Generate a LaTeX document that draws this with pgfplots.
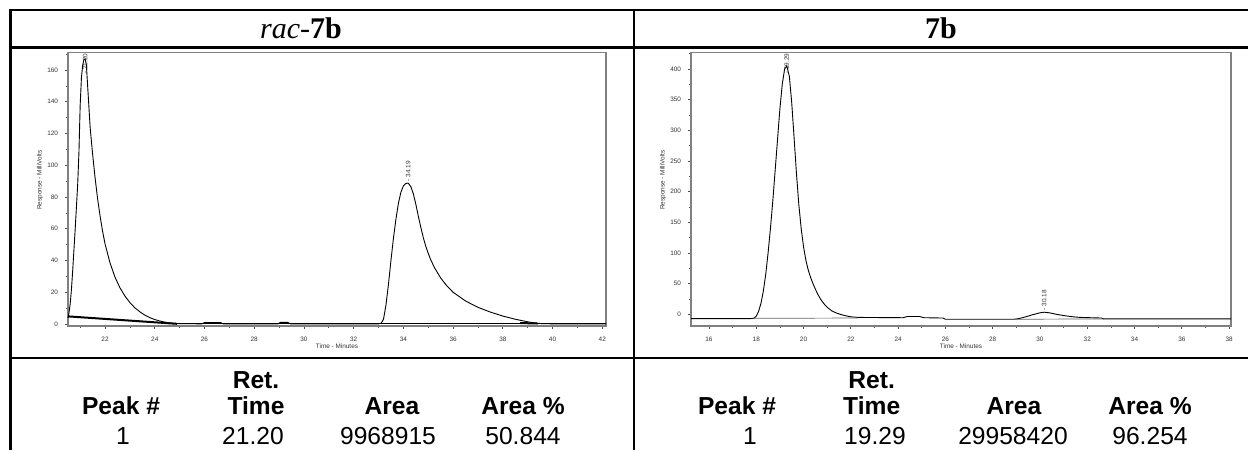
\documentclass[border=0pt]{standalone}
\usepackage{fontspec}
\setmainfont{Liberation Serif}
\setsansfont{Liberation Sans}
\usepackage{pgfplots}
\pgfplotsset{compat=1.18}
\pgfplotsset{chrom/.style={
  scale only axis, anchor=south west, clip=false,
  axis line style={black!50, line width=0.7pt},
  tick align=outside, tick pos=left,
  major tick length=1.6pt, minor tick length=0.9pt,
  every tick/.style={black!70, line width=0.35pt},
  /pgf/number format/assume math mode=true,
  tick label style={font=\sffamily\fontsize{3.2}{3.5}\selectfont, text=black!80, inner sep=0pt},
  xticklabel style={anchor=center, yshift=-5.1pt},
  yticklabel style={anchor=east, xshift=-3.2pt},
  xlabel={Time - Minutes}, ylabel={Response - MilliVolts},
  every axis x label/.style={at={(axis description cs:0.5,-0.0757)}, anchor=center,
     font=\sffamily\fontsize{3.2}{3.5}\selectfont, text=black!80, inner sep=0pt},
  every axis y label/.style={at={(axis description cs:-0.052,0.534)}, anchor=center, rotate=90,
     font=\sffamily\fontsize{3.2}{3.5}\selectfont, text=black!80, inner sep=0pt},
}}
\begin{document}
\begin{tikzpicture}
\useasboundingbox (0,0) rectangle (624pt,225pt);
% table lines
\draw[line width=1.4pt] (5.35pt,0) -- (5.35pt,220pt) -- (624pt,220pt);
\draw[line width=1.4pt] (5.35pt,201.15pt) -- (624pt,201.15pt);
\draw[line width=1.4pt] (5.35pt,46pt) -- (624pt,46pt);
\draw[line width=1.4pt] (317pt,0) -- (317pt,220pt);
% titles
\node[anchor=base, inner sep=0pt] at (150.5pt,205.7pt) {\fontsize{15}{17}\selectfont\textit{rac}-\textbf{7b}};
\node[anchor=base, inner sep=0pt] at (470.5pt,205.7pt) {\fontsize{15}{17}\selectfont\textbf{7b}};

% left chromatogram
\begin{axis}[chrom, at={(34pt,62pt)}, width=269pt, height=136.65pt,
  xmin=20.51, xmax=42.15, ymin=-1.26, ymax=170.9,
  xtick={22,24,...,42}, minor xtick={21,23,...,41},
  ytick={0,20,...,160}, minor ytick={10,30,...,170}]
\addplot[black, line width=0.45pt] coordinates {
(20.51,3.8) (20.55,7) (20.60,13) (20.65,22) (20.70,34) (20.75,47) (20.80,60) (20.85,74)
(20.90,88) (20.95,108) (21.00,138) (21.05,155) (21.10,163) (21.15,166.5) (21.20,167)
(21.25,163) (21.30,150) (21.35,137) (21.40,124) (21.50,107) (21.60,92) (21.70,79)
(21.80,68) (21.90,58.5) (22.00,50.5) (22.20,38.5) (22.40,29.5) (22.60,22.8) (22.80,17.6)
(23.00,13.5) (23.20,10.2) (23.40,7.7) (23.60,5.6) (23.80,4) (24.00,2.8) (24.20,1.9)
(24.40,1.2) (24.60,0.7) (24.80,0.4) (25.00,0.2) (25.90,0.1) (26.00,0.9) (26.65,0.9)
(26.75,0.1) (28.95,0.1) (29.05,1) (29.35,1) (29.45,0.1) (33.00,0.1) (33.10,0.4)
(33.20,3) (33.30,12) (33.40,25) (33.50,40) (33.60,54) (33.70,66) (33.80,76) (33.90,83)
(34.00,87) (34.10,88.5) (34.19,88.8) (34.30,86.5) (34.40,82) (34.50,75.5) (34.60,68)
(34.70,61) (34.80,54.5) (34.90,49) (35.00,44.5) (35.10,40.5) (35.25,35.5) (35.50,29)
(35.75,24) (36.00,20) (36.50,14.5) (37.00,10.5) (37.50,7.5) (38.00,5) (38.50,3)
(39.00,1.4) (39.30,0.6) (39.60,0.2) (40.00,0.1) (42.15,0.1)};
\addplot[black, line width=1pt] coordinates {(20.51,4.8) (24.9,0.1)};
\addplot[black, line width=0.6pt] coordinates {(24.9,0.1) (42.15,0.1)};
\addplot[black, line width=1pt] coordinates {(38.7,0.6) (39.4,0.3)};
\node[rotate=90, anchor=east, inner sep=0.3pt, font=\sffamily\fontsize{3.2}{3.5}\selectfont, text=black!80] at (axis cs:21.2,170.9) {- 21.20};
\node[rotate=90, anchor=west, inner sep=0.8pt, font=\sffamily\fontsize{3.2}{3.5}\selectfont, text=black!80] at (axis cs:34.19,88.8) {- 34.19};
\end{axis}

% right chromatogram
\begin{axis}[chrom, at={(345.5pt,62pt)}, width=270pt, height=136.65pt,
  xmin=15.24, xmax=38.08, ymin=-19, ymax=426.5,
  xtick={16,18,...,38}, minor xtick={17,19,...,37},
  ytick={0,50,...,400}, minor ytick={25,75,...,425}]
\addplot[black, line width=0.45pt] coordinates {
(15.24,-7) (17.70,-7) (17.90,-6.5) (18.00,-3) (18.10,5) (18.20,18) (18.30,38) (18.40,65)
(18.50,100) (18.60,140) (18.70,185) (18.80,235) (18.90,285) (19.00,335) (19.10,375)
(19.20,400) (19.29,405) (19.40,388) (19.50,345) (19.60,288) (19.70,230) (19.80,179)
(19.90,140) (20.00,110) (20.10,88) (20.20,72) (20.30,60) (20.40,50) (20.50,41)
(20.60,33) (20.70,26) (20.80,20.5) (20.90,15.5) (21.00,11.5) (21.20,5.5) (21.40,2)
(21.60,-0.5) (21.80,-2.5) (22.00,-4) (22.30,-5) (24.20,-5.5) (24.40,-3.5) (24.90,-3.5)
(25.10,-5.5) (25.90,-6) (26.00,-8) (28.90,-8) (29.10,-7) (29.40,-4) (29.70,-0.5)
(30.00,2.5) (30.18,3.5) (30.40,2.5) (30.70,0) (31.00,-2) (31.40,-4) (31.70,-5)
(32.60,-6) (32.70,-7.5) (38.08,-7.5)};
\addplot[black!60, line width=0.35pt] coordinates {(17.85,-6.5) (22.3,-6)};
\addplot[black!60, line width=0.35pt] coordinates {(28.9,-8) (32.7,-7.5)};
\node[rotate=90, anchor=east, inner sep=0.3pt, font=\sffamily\fontsize{3.2}{3.5}\selectfont, text=black!80] at (axis cs:19.29,426.5) {- 19.29};
\node[rotate=90, anchor=west, inner sep=0.8pt, font=\sffamily\fontsize{3.2}{3.5}\selectfont, text=black!80] at (axis cs:30.18,3.5) {- 30.18};
\end{axis}

% tables
\begin{scope}[every node/.style={anchor=base, inner sep=0pt, font=\sffamily\fontsize{12.3}{14}\selectfont}]
\node at (128pt,30.85pt) {\textbf{Ret.}};
\node at (60.5pt,17.85pt) {\textbf{Peak \#}};
\node at (128pt,17.85pt) {\textbf{Time}};
\node at (196pt,17.85pt) {\textbf{Area}};
\node at (261.5pt,17.85pt) {\textbf{Area \%}};
\node at (61.5pt,2.6pt) {1};
\node at (126.5pt,2.6pt) {21.20};
\node at (194pt,2.6pt) {9968915};
\node at (261.5pt,2.6pt) {50.844};
\node at (435.85pt,30.85pt) {\textbf{Ret.}};
\node at (368.5pt,17.85pt) {\textbf{Peak \#}};
\node at (435.85pt,17.85pt) {\textbf{Time}};
\node at (507pt,17.85pt) {\textbf{Area}};
\node at (575pt,17.85pt) {\textbf{Area \%}};
\node at (375pt,2.6pt) {1};
\node at (437.5pt,2.6pt) {19.29};
\node at (506.5pt,2.6pt) {29958420};
\node at (575pt,2.6pt) {96.254};
\end{scope}
\end{tikzpicture}
\end{document}
